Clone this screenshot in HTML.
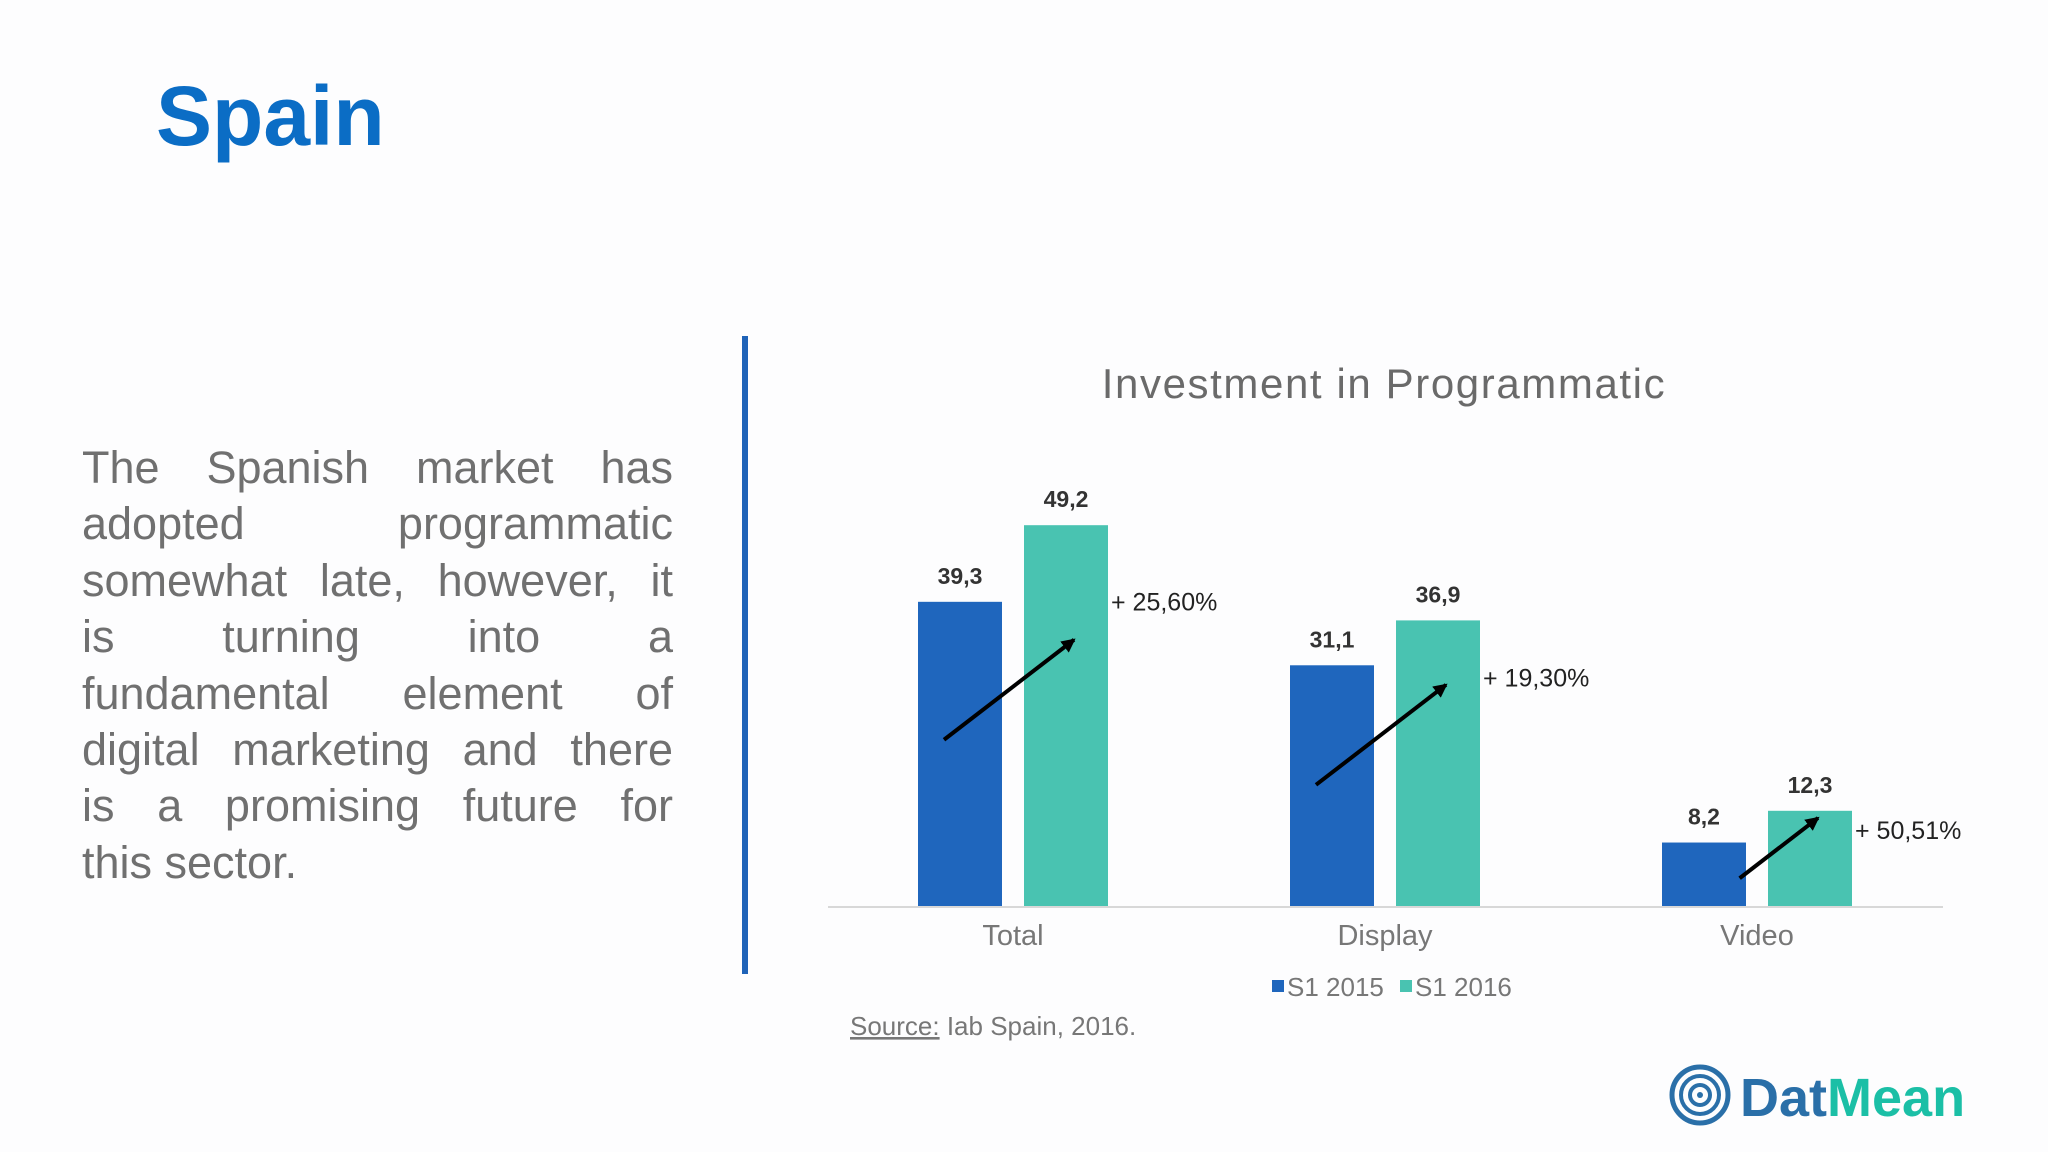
<!DOCTYPE html>
<html><head><meta charset="utf-8"><style>
html,body{margin:0;padding:0;background:#fdfdfe;}
body{width:2048px;height:1152px;position:relative;overflow:hidden;font-family:"Liberation Sans",sans-serif;}
#title{position:absolute;left:156px;top:68px;font-size:84px;font-weight:bold;color:#0b6dc5;margin:0}
#para{position:absolute;left:82px;top:440px;width:591px;font-size:45px;line-height:56.4px;color:#707070;margin:0}
#para span{display:block;text-align:justify;text-align-last:justify;white-space:nowrap}
#para span.last{text-align-last:left}
#vline{position:absolute;left:742px;top:336px;width:6px;height:638px;background:#1f63b8}
svg{position:absolute;left:0;top:0}
</style></head><body>
<h1 id="title">Spain</h1>
<p id="para"><span>The Spanish market has</span><span>adopted programmatic</span><span>somewhat late, however, it</span><span>is turning into a</span><span>fundamental element of</span><span>digital marketing and there</span><span>is a promising future for</span><span class="last">this sector.</span></p>
<div id="vline"></div>
<svg id="chart" width="2048" height="1152">
<defs><marker id="ah" markerWidth="14" markerHeight="14" refX="12" refY="7" orient="auto" markerUnits="userSpaceOnUse"><path d="M0,0 L14,7 L0,14 z" fill="#000"/></marker></defs>
<text x="1384" y="398" text-anchor="middle" font-size="42" letter-spacing="1.6" fill="#6a6a6a" font-family="Liberation Sans, sans-serif">Investment in Programmatic</text>
<line x1="828" y1="907" x2="1943" y2="907" stroke="#d8d8d8" stroke-width="2"/>
<g id="bars"></g>
<rect x="1272" y="980" width="12" height="12" fill="#1f66bd"/>
<text x="1287" y="996" font-size="26" fill="#777">S1 2015</text>
<rect x="1400" y="980" width="12" height="12" fill="#49c3b1"/>
<text x="1415" y="996" font-size="26" fill="#777">S1 2016</text>
<text x="850" y="1035" font-size="26" fill="#777"><tspan text-decoration="underline">Source:</tspan> Iab Spain, 2016.</text>
<g>
<circle cx="1700" cy="1095" r="28" fill="none" stroke="#2a6fa8" stroke-width="5"/>
<circle cx="1700" cy="1095" r="19" fill="none" stroke="#2a6fa8" stroke-width="4"/>
<circle cx="1700" cy="1095" r="10" fill="none" stroke="#2a6fa8" stroke-width="4"/>
<circle cx="1700" cy="1095" r="3" fill="#2a6fa8"/>
<text x="1740" y="1116" font-size="54" font-weight="bold" fill="#2a6fa8">Dat<tspan fill="#1bbfa6">Mean</tspan></text>
</g>
</svg>
<script>
const categories = ["Total","Display","Video"];
const s2015 = [39.3, 31.1, 8.2];
const s2016 = [49.2, 36.9, 12.3];
const valueLabels2015 = ["39,3","31,1","8,2"];
const valueLabels2016 = ["49,2","36,9","12,3"];
const growthLabels = ["+ 25,60%","+ 19,30%","+ 50,51%"];

const NS="http://www.w3.org/2000/svg";
const g=document.getElementById('bars');
const baseY=906, pxPerUnit=7.74, firstCenter=1013, step=372, bw=84, gap=22;
const y=v=>baseY-v*pxPerUnit;
const cx=i=>firstCenter+i*step;
function mk(tag,attrs,txt){const e=document.createElementNS(NS,tag);for(const k in attrs)e.setAttribute(k,attrs[k]);if(txt!==undefined)e.textContent=txt;g.appendChild(e);return e;}
categories.forEach((c,i)=>{
  const bx=cx(i)-gap/2-bw, tx=cx(i)+gap/2;
  const bh=baseY-y(s2015[i]), th=baseY-y(s2016[i]);
  const b=mk('rect',{x:bx,y:y(s2015[i]),width:bw,height:bh,fill:'#1f66bd'});
  
  
  const t=mk('rect',{x:tx,y:y(s2016[i]),width:bw,height:th,fill:'#49c3b1'});
  
  
  const l1=mk('text',{x:bx+bw/2,y:y(s2015[i])-18,'text-anchor':'middle','font-size':23,'font-weight':'bold',fill:'#333'},valueLabels2015[i]);
  
  
  const l2=mk('text',{x:tx+bw/2,y:y(s2016[i])-18,'text-anchor':'middle','font-size':23,'font-weight':'bold',fill:'#333'},valueLabels2016[i]);
  
  
  const gl=mk('text',{x:tx+bw+3,y:y(s2016[i])+0.2*th+9,'font-size':25,fill:'#222'},growthLabels[i]);
  
  
  const ex=tx+bw/2+8, ey=y(s2016[i])+0.00079*th*th;
  const dy=Math.min(100,0.95*bh), dx=dy*1.3;
  const ar=mk('line',{x1:ex-dx,y1:ey+dy,x2:ex,y2:ey,stroke:'#000','stroke-width':4,'marker-end':'url(#ah)'});
  
  
  const cl=mk('text',{x:cx(i),y:945,'text-anchor':'middle','font-size':29,fill:'#777'},c);
  
  
});
</script>
</body></html>
